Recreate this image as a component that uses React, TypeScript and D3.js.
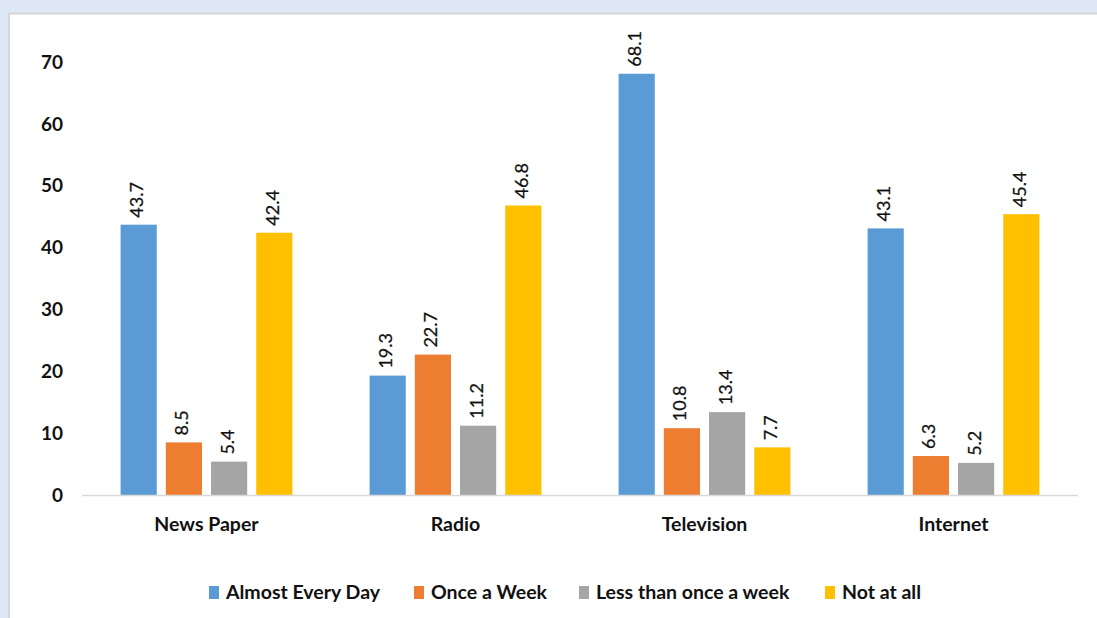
import React from "react";
import * as d3 from "d3";

const categories = ["News Paper", "Radio", "Television", "Internet"];
const seriesNames = ["Almost Every Day", "Once a Week", "Less than once a week", "Not at all"];
const almostEveryDay = [43.7, 19.3, 68.1, 43.1];
const onceAWeek = [8.5, 22.7, 10.8, 6.3];
const lessThanOnceAWeek = [5.4, 11.2, 13.4, 5.2];
const notAtAll = [42.4, 46.8, 7.7, 45.4];
const yTicks = [0, 10, 20, 30, 40, 50, 60, 70];
const colors = ["#5b9bd5", "#ed7d31", "#a5a5a5", "#ffc000"];

const seriesValues = [almostEveryDay, onceAWeek, lessThanOnceAWeek, notAtAll];

const W = 1097;
const H = 618;
const FONT = "Lato, 'Open Sans', sans-serif";

export default function App() {
  const plotLeft = 82;
  const plotRight = 1078;
  const y = d3.scaleLinear().domain([0, 70]).range([495, 62]);
  const x0 = d3.scaleBand<string>().domain(categories).range([plotLeft, plotRight]).paddingInner(0.31).paddingOuter(0.155);
  const x1 = d3
    .scaleBand<number>()
    .domain(d3.range(seriesNames.length))
    .range([0, x0.bandwidth()])
    .paddingInner(0.2);

  const legendX = [209, 414, 579, 825];

  return (
    <div style={{ position: "fixed", left: 0, top: 0 }}>
      <svg width={W} height={H} style={{ display: "block" }}>
        <rect x={0} y={0} width={W} height={H} fill="#dee8f4" />
        <rect x={9} y={14} width={W - 9} height={H - 14} fill="#ffffff" />
        <line x1={9} x2={W} y1={13.5} y2={13.5} stroke="#d6d6d9" strokeWidth={2} />
        <line x1={9} x2={9} y1={13} y2={H} stroke="#d6d6d9" strokeWidth={2} />

        {/* y tick labels */}
        {yTicks.map((t) => (
          <text
            key={t}
            x={63}
            y={y(t)}
            dy="0.35em"
            textAnchor="end"
            fontFamily={FONT}
            fontWeight="bold"
            fontSize={19}
            fill="#111"
          >
            {t}
          </text>
        ))}

        {/* bars */}
        {categories.map((c, ci) => (
          <g key={c} transform={`translate(${x0(c)},0)`}>
            {seriesValues.map((vals, si) => {
              const v = vals[ci];
              const bx = x1(si)!;
              const bw = x1.bandwidth();
              const top = y(v);
              return (
                <g key={si}>
                  <rect x={bx} y={top} width={bw} height={y(0) - top} fill={colors[si]} />
                  <text
                    transform={`translate(${bx + bw / 2},${top - 7}) rotate(-90)`}
                    dominantBaseline="middle"
                    textAnchor="start"
                    fontFamily={FONT}
                    fontSize={18}
                    stroke="#111"
                    strokeWidth={0.25}
                    fill="#111"
                  >
                    {v.toFixed(1)}
                  </text>
                </g>
              );
            })}
          </g>
        ))}

        {/* x axis */}
        <line x1={plotLeft} x2={plotRight} y1={y(0) + 0.5} y2={y(0) + 0.5} stroke="#d9d9d9" strokeWidth={1.5} />
        {categories.map((c) => (
          <text
            key={c}
            x={x0(c)! + x0.bandwidth() / 2}
            y={524}
            dy="0.35em"
            textAnchor="middle"
            fontFamily={FONT}
            fontWeight="bold"
            fontSize={19.5}
            fill="#111"
          >
            {c}
          </text>
        ))}

        {/* legend */}
        {seriesNames.map((s, i) => (
          <g key={s}>
            <rect x={legendX[i]} y={586} width={10} height={13} fill={colors[i]} />
            <text
              x={legendX[i] + 17}
              y={592.5}
              dy="0.35em"
              fontFamily={FONT}
              fontWeight="bold"
              fontSize={19.5}
              fill="#111"
            >
              {s}
            </text>
          </g>
        ))}
      </svg>
    </div>
  );
}
